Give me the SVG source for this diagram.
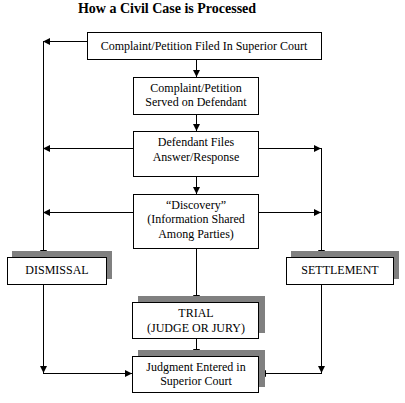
<svg xmlns="http://www.w3.org/2000/svg" width="405" height="403" viewBox="0 0 405 403">
<style>
.box{fill:#fff;stroke:#000;stroke-width:1}
.sh{fill:#808080}
.t{font-family:"Liberation Serif","Times New Roman",serif;font-size:12px;fill:#000;text-anchor:middle}
.title{font-family:"Liberation Serif","Times New Roman",serif;font-size:14px;font-weight:bold;fill:#000;text-anchor:middle}
.c{fill:none;stroke:#000;stroke-width:1}
</style>
<defs>
<marker id="ah" markerUnits="userSpaceOnUse" markerWidth="8" markerHeight="8" refX="7" refY="3.5" orient="auto">
<path d="M0,0 L7,3.5 L0,7 z" fill="#000"/>
</marker>
</defs>
<rect width="405" height="403" fill="#fff"/>
<text class="title" x="167" y="13">How a Civil Case is Processed</text>
<g id="connectors" class="c" marker-end="url(#ah)">
<path d="M196.5 59.5 V77"/>
<path d="M87 41.5 H43"/>
<path d="M43.5 41 V257"/>
<path d="M196.5 114.5 V131"/>
<path d="M133 148.5 H43"/>
<path d="M258 148.5 H321"/>
<path d="M321.5 148 V257"/>
<path d="M196.5 176.5 V194"/>
<path d="M133 212.5 H43"/>
<path d="M258 212.5 H321"/>
<path d="M196.5 248.5 V302"/>
<path d="M196.5 338.5 V356"/>
<path d="M43.5 284.5 V373"/>
<path d="M43 373.5 H132"/>
<path d="M321.5 284.5 V373"/>
<path d="M322 373.5 H259"/>
</g>
<g id="filed">
<rect class="box" x="87.5" y="32.5" width="234" height="27"/>
<text class="t" x="204" y="49.5">Complaint/Petition Filed In Superior Court</text>
</g>
<g id="served">
<rect class="box" x="133.5" y="77.5" width="125" height="37"/>
<text class="t" x="196" y="91.5">Complaint/Petition</text>
<text class="t" x="196" y="105.5">Served on Defendant</text>
</g>
<g id="answer">
<rect class="box" x="133.5" y="131.5" width="125" height="45"/>
<text class="t" x="196" y="145.5">Defendant Files</text>
<text class="t" x="196" y="160.5">Answer/Response</text>
</g>
<g id="discovery">
<rect class="box" x="133.5" y="194.5" width="125" height="54"/>
<text class="t" x="196" y="208.5">“Discovery”</text>
<text class="t" x="196" y="222.5">(Information Shared</text>
<text class="t" x="196" y="237.5">Among Parties)</text>
</g>
<g id="dismissal">
<rect class="sh" x="12" y="251" width="100" height="28"/>
<rect class="box" x="7.5" y="257.5" width="99" height="27"/>
<text class="t" x="57" y="273.5">DISMISSAL</text>
</g>
<g id="settlement">
<rect class="sh" x="291" y="251" width="108" height="28"/>
<rect class="box" x="286.5" y="257.5" width="107" height="27"/>
<text class="t" x="340" y="273.5">SETTLEMENT</text>
</g>
<g id="trial">
<rect class="sh" x="138" y="296" width="127" height="37"/>
<rect class="box" x="132.5" y="302.5" width="126" height="36"/>
<text class="t" x="196" y="316.5">TRIAL</text>
<text class="t" x="196" y="331.5">(JUDGE OR JURY)</text>
</g>
<g id="judgment">
<rect class="sh" x="138" y="350" width="127" height="37"/>
<rect class="box" x="132.5" y="356.5" width="126" height="36"/>
<text class="t" x="196" y="370.5">Judgment Entered in</text>
<text class="t" x="196" y="384.5">Superior Court</text>
</g>
</svg>
